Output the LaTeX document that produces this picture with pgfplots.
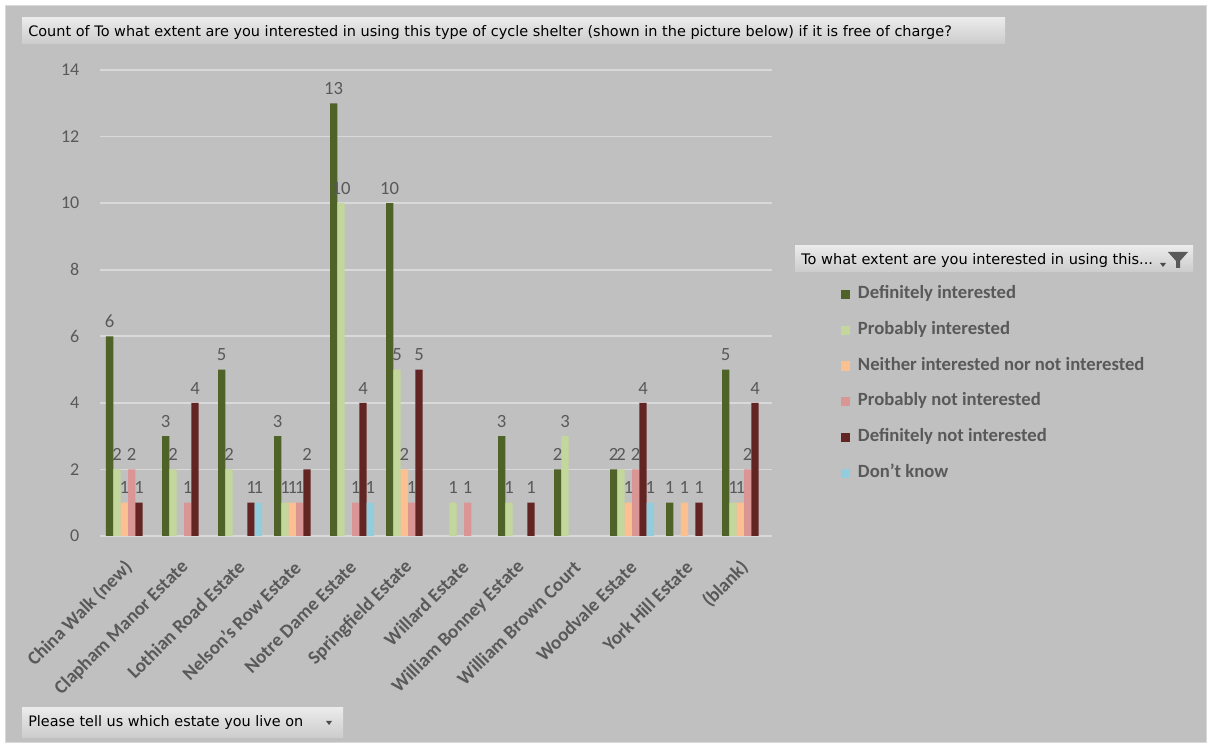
\documentclass[border=0pt]{standalone}
\usepackage{pgfplots}
\pgfplotsset{compat=1.18}
\usepackage{fontspec}
\setmainfont{Carlito}
\newfontfamily\tfont{DejaVu Sans}
\definecolor{bg}{RGB}{192,192,192}
\definecolor{gridc}{RGB}{217,217,217}
\definecolor{txt}{RGB}{89,89,89}
\definecolor{cDI}{RGB}{79,98,40}
\definecolor{cPI}{RGB}{195,214,155}
\definecolor{cNE}{RGB}{250,192,144}
\definecolor{cPN}{RGB}{217,150,148}
\definecolor{cDN}{RGB}{99,37,35}
\definecolor{cDK}{RGB}{147,205,221}
\begin{document}
\begin{tikzpicture}
\begin{scope}[x=0.75pt,y=0.75pt]
\fill[white] (0,0) rectangle (1211,746);
\fill[bg] (5,4) rectangle (1206,741);
\draw[gray!30] (5,4) rectangle (1206,741);
% title box
\shade[top color=white!92!black, bottom color=white!80!black] (22,702) rectangle (1005,728);
\node[anchor=west, inner sep=0pt, font=\tfont\fontsize{10.85}{12}\selectfont] at (28,713.5) {Count of To what extent are you interested in using this type of cycle shelter (shown in the picture below) if it is free of charge?};
% legend header
\shade[top color=white!92!black, bottom color=white!80!black] (795,474) rectangle (1193,500);
\node[anchor=west, inner sep=0pt, font=\tfont\fontsize{10.9}{12}\selectfont] at (801,486) {To what extent are you interested in using this...};
\fill[black!70] (1160,483) -- (1166,483) -- (1163,479) -- cycle;
\fill[black!65] (1168,494) -- (1188,494) -- (1180,485) -- (1180,478) -- (1176,478) -- (1176,485) -- cycle;
% bottom button
\shade[top color=white!92!black, bottom color=white!80!black] (22,8) rectangle (343,38);
\node[anchor=west, inner sep=0pt, font=\tfont\fontsize{10.8}{12}\selectfont] at (28,23) {Please tell us which estate you live on};
\fill[black!70] (326,25) -- (332,25) -- (329,21) -- cycle;
\end{scope}
\begin{axis}[
  at={(75pt,157.5pt)}, anchor=south west,
  scale only axis, width=504pt, height=349.5pt,
  ybar=0pt, bar width=5.5pt,
  xmin=-0.5, xmax=11.5, ymin=0, ymax=14,
  xtick={0,...,11},
  xticklabels={China Walk (new),Clapham Manor Estate,Lothian Road Estate,Nelson's Row Estate,Notre Dame Estate,Springfield Estate,Willard Estate,William Bonney Estate,William Brown Court,Woodvale Estate,York Hill Estate,(blank)},
  ytick={0,2,...,14},
  ymajorgrids, grid style={gridc, line width=1.2pt},
  axis line style={draw=none}, major tick style={draw=none},
  /pgf/number format/assume math mode=true,
  yticklabel style={font=\fontsize{13.5}{15}\selectfont, text=txt, xshift=-12pt},
  xticklabel style={yshift=-17pt, xshift=1pt, rotate=45, anchor=east, inner sep=0pt, font=\bfseries\fontsize{14.3}{16}\selectfont, text=txt},
  nodes near coords,
  every node near coord/.append style={font=\fontsize{14}{16}\selectfont, text=black!65, yshift=3pt},
  legend style={at={(1.0968,0.545)}, anchor=north west, draw=none, fill=none,
    font=\bfseries\fontsize{14}{16}\selectfont, text=txt, row sep=12.9pt,
    nodes={inner sep=1pt, text height=9pt, text depth=3pt}},
  legend cell align=left,
  legend image code/.code={\fill[#1] (0pt,-3.4pt) rectangle (6.75pt,3.4pt); \path (11.5pt,0pt);},
]
\addplot[fill=cDI, draw=none] coordinates {(0,6)(1,3)(2,5)(3,3)(4,13)(5,10)(7,3)(8,2)(9,2)(10,1)(11,5)};
\addplot[fill=cPI, draw=none] coordinates {(0,2)(1,2)(2,2)(3,1)(4,10)(5,5)(6,1)(7,1)(8,3)(9,2)(11,1)};
\addplot[fill=cNE, draw=none] coordinates {(0,1)(3,1)(5,2)(9,1)(10,1)(11,1)};
\addplot[fill=cPN, draw=none] coordinates {(0,2)(1,1)(3,1)(4,1)(5,1)(6,1)(9,2)(11,2)};
\addplot[fill=cDN, draw=none] coordinates {(0,1)(1,4)(2,1)(3,2)(4,4)(5,5)(7,1)(9,4)(10,1)(11,4)};
\addplot[fill=cDK, draw=none] coordinates {(2,1)(4,1)(9,1)};
\legend{Definitely interested,Probably interested,Neither interested nor not interested,Probably not interested,Definitely not interested,Don't know}
\end{axis}
\end{tikzpicture}
\end{document}
